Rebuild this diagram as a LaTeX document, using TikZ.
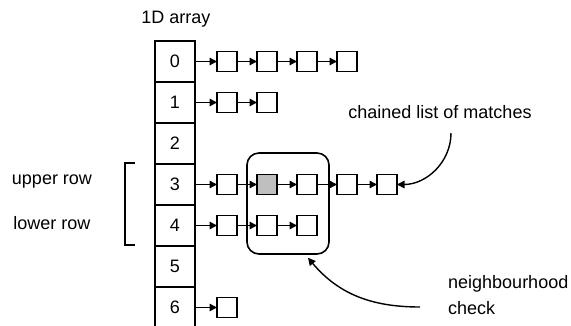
\documentclass[tikz,border=0pt]{standalone}
\usepackage{fontspec}
\setmainfont{Liberation Sans}
\usetikzlibrary{arrows.meta}

\tikzset{
  cell/.style={draw, line width=1.6pt, minimum width=40pt, minimum height=41pt, inner sep=0pt},
  item/.style={draw, line width=1.3pt, minimum size=20pt, inner sep=0pt, outer sep=0pt},
  link/.style={line width=1.4pt, -{Triangle[length=7.5pt,width=7.5pt]}},
  hoodbox/.style={draw, line width=1.6pt, rounded corners=12pt, minimum width=82pt, minimum height=101pt},
}

\begin{document}
\begin{tikzpicture}[x=1pt,y=1pt, every node/.style={font=\fontsize{18}{26}\selectfont}]
    \useasboundingbox (0,0) rectangle (571,325);
    % the array
    \foreach \r in {0,...,6}
      \node[cell] (c\r) at (175,263.5-41*\r) {\r};
    % chained lists
    \foreach \r/\n in {0/4,1/2,3/5,4/3,6/1} {
      \foreach \k in {1,...,\n} {
        \node[item] (n\r-\k) at (187+40*\k,263.5-41*\r) {};
        \ifnum\k=1
          \draw[link] (c\r.east) -- (n\r-1.west);
        \else
          \pgfmathtruncatemacro\p{\k-1}
          \draw[link] (n\r-\p.east) -- (n\r-\k.west);
        \fi
      }
    }
    \filldraw[fill=black!25, line width=1.3pt] (n3-2.south west) rectangle (n3-2.north east);
    % neighbourhood
    \node[hoodbox] (hood) at (288,121.5) {};
    \draw[line width=1.2pt] (135,162) -- (125,162) -- (125,80) -- (135,80);
    \node (upper) at (52,143) {upper row};
    \node (lower) at (52,102) {lower row};
    \node (title) at (176,306) {1D array};
    \node (chain) at (440,213) {chained list of matches};
    \node[anchor=west, align=left, inner sep=0pt] (check) at (448,30) {neighbourhood\\check};
    \coordinate (chainend) at (451,192);
    \coordinate (checkend) at (420,18);
    \coordinate (hoodtip) at ([shift={(20pt,-3pt)}]hood.south);
    \draw[link] (chainend) to[out=-90,in=0] (n3-5.east);
    \draw[link] (checkend) to[out=180,in=-50] (hoodtip);
  \end{tikzpicture}
\end{document}
